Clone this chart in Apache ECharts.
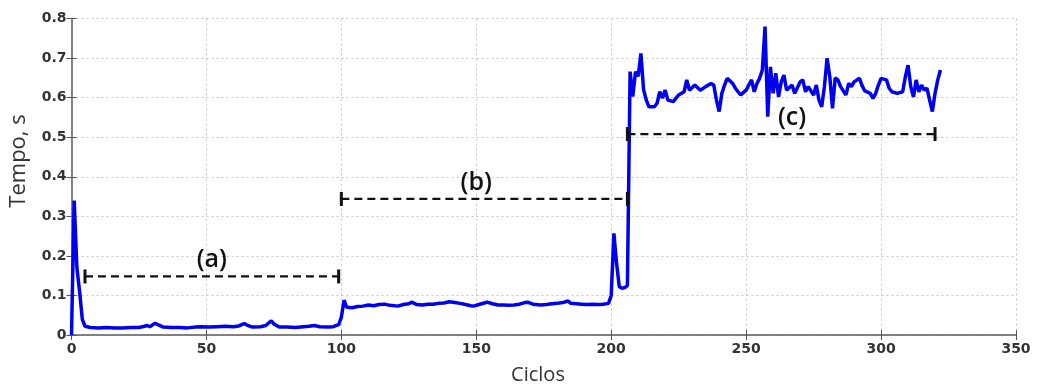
<!DOCTYPE html>
<html>
<head>
<meta charset="utf-8">
<script src="https://cdn.jsdelivr.net/npm/echarts@6/dist/echarts.min.js"></script>
<style>
  html, body { margin: 0; padding: 0; background: #fff; }
  #chart { width: 1038px; height: 385px; }
</style>
</head>
<body>
<div id="chart"></div>
<script>
// Execution time per cycle
const ciclos = [
  0, 1, 2, 3, 4, 5, 7, 10, 13, 16, 19, 22, 25, 27, 28, 29, 31, 32, 34, 37,
  40, 43, 46, 48, 51, 54, 57, 60, 62, 64, 65, 67, 70, 72, 74, 75, 77, 80, 83, 86,
  88, 90, 92, 95, 97, 99, 100, 101, 102, 104, 106, 108, 110, 112, 114, 116, 118, 121, 123, 125,
  126, 128, 130, 132, 134, 136, 138, 140, 142, 144, 146, 148, 149, 151, 153, 154, 156, 158, 160, 162,
  164, 166, 168, 169, 171, 174, 176, 178, 180, 182, 184, 185, 187, 189, 191, 193, 195, 197, 199, 200,
  201, 202, 203, 204, 205, 206, 207, 208, 209, 210, 211, 212, 213, 214, 216, 217, 218, 219, 220, 221,
  223, 225, 227, 228, 229, 231, 233, 235, 237, 238, 239, 240, 241, 242, 243, 245, 246, 247, 248, 250,
  251, 252, 253, 254, 255, 256, 257, 258, 259, 260, 261, 262, 263, 264, 265, 267, 268, 270, 271, 272,
  273, 275, 276, 277, 278, 279, 280, 281, 282, 283, 284, 285, 287, 288, 289, 290, 292, 293, 294, 296,
  297, 298, 299, 300, 302, 303, 304, 306, 308, 309, 310, 311, 312, 313, 314, 315, 316, 317, 318, 319,
  320, 321, 322
];
const tempo = [
  0.000, 0.340, 0.170, 0.110, 0.040, 0.022, 0.019, 0.018, 0.019, 0.018, 0.018, 0.019, 0.019, 0.022, 0.024, 0.021, 0.030, 0.026, 0.020, 0.019,
  0.019, 0.018, 0.020, 0.021, 0.020, 0.021, 0.022, 0.021, 0.023, 0.029, 0.025, 0.020, 0.021, 0.024, 0.036, 0.028, 0.020, 0.020, 0.019, 0.021,
  0.022, 0.024, 0.021, 0.020, 0.021, 0.026, 0.045, 0.088, 0.070, 0.069, 0.072, 0.073, 0.076, 0.074, 0.077, 0.078, 0.075, 0.073, 0.077, 0.079,
  0.083, 0.077, 0.076, 0.078, 0.078, 0.080, 0.081, 0.084, 0.082, 0.080, 0.077, 0.074, 0.073, 0.077, 0.081, 0.083, 0.079, 0.076, 0.076, 0.075,
  0.076, 0.078, 0.082, 0.083, 0.078, 0.076, 0.077, 0.079, 0.080, 0.082, 0.086, 0.080, 0.079, 0.078, 0.077, 0.078, 0.077, 0.078, 0.080, 0.100,
  0.257, 0.180, 0.122, 0.118, 0.120, 0.125, 0.666, 0.603, 0.666, 0.654, 0.712, 0.620, 0.594, 0.577, 0.577, 0.586, 0.615, 0.599, 0.619, 0.594,
  0.590, 0.607, 0.615, 0.645, 0.619, 0.632, 0.619, 0.628, 0.636, 0.632, 0.594, 0.565, 0.611, 0.632, 0.649, 0.636, 0.624, 0.615, 0.607, 0.619,
  0.632, 0.645, 0.615, 0.636, 0.649, 0.670, 0.780, 0.552, 0.678, 0.611, 0.662, 0.602, 0.640, 0.657, 0.619, 0.632, 0.611, 0.640, 0.645, 0.615,
  0.628, 0.607, 0.632, 0.594, 0.577, 0.628, 0.700, 0.653, 0.573, 0.650, 0.645, 0.628, 0.607, 0.636, 0.628, 0.640, 0.649, 0.630, 0.617, 0.611,
  0.598, 0.611, 0.632, 0.649, 0.645, 0.624, 0.615, 0.611, 0.615, 0.653, 0.682, 0.628, 0.602, 0.645, 0.615, 0.632, 0.619, 0.624, 0.594, 0.565,
  0.611, 0.645, 0.670
];

// Phase brackets (a), (b), (c)
const spanNames = ['(a)', '(b)', '(c)'];
const spanStart = [5, 100, 206];
const spanEnd = [99, 206, 320];
const spanLevel = [0.148, 0.344, 0.508];
const spanLabelAt = [52, 150, 267];

// Axis ranges
const xMin = 0, xMax = 350, xStep = 50;
const yMin = 0, yMax = 0.8, yStep = 0.1;

const tickFont = { fontFamily: 'DejaVu Sans', fontWeight: 'bold', fontSize: 14, color: '#333' };
const frame = { show: true, lineStyle: { color: '#7a7a7a', width: 1.5 } };
const innerTick = { show: true, inside: true, length: 5, lineStyle: { color: '#555', width: 1 } };
const dotted = { show: true, lineStyle: { color: '#c4c4c4', width: 1, type: [2, 3] } };

const series = [{
  type: 'line',
  data: ciclos.map((c, i) => [c, tempo[i]]),
  showSymbol: false,
  symbol: 'none',
  lineStyle: { color: '#0000f0', width: 3.5 },
  z: 3
}];

spanNames.forEach((name, i) => {
  series.push({
    type: 'line',
    data: [[spanStart[i], spanLevel[i]], [spanEnd[i], spanLevel[i]]],
    symbol: 'rect',
    symbolSize: [3, 14],
    showSymbol: true,
    itemStyle: { color: '#111' },
    lineStyle: { color: '#111', width: 2.2, type: [8, 5] },
    z: 4
  });
});

series.push({
  type: 'scatter',
  data: spanNames.map((n, i) => [spanLabelAt[i], spanLevel[i], n]),
  symbolSize: 0,
  itemStyle: { opacity: 1 },
  label: {
    show: true,
    position: 'top',
    distance: 4,
    formatter: p => p.data[2],
    fontFamily: 'Open Sans',
    fontWeight: 600,
    fontSize: 25,
    color: '#111'
  },
  z: 5
});

const chart = echarts.init(document.getElementById('chart'), null, { renderer: 'canvas' });
chart.setOption({
  animation: false,
  backgroundColor: '#fff',
  grid: { left: 71.5, right: 22, top: 18.6, bottom: 50 },
  xAxis: [{
    type: 'value', min: xMin, max: xMax, interval: xStep, position: 'bottom',
    axisLine: frame, axisTick: innerTick, splitLine: dotted,
    axisLabel: Object.assign({ margin: 7 }, tickFont)
  }, {
    type: 'value', min: xMin, max: xMax, interval: xStep, position: 'top',
    axisLine: frame, axisTick: innerTick, splitLine: { show: false }, axisLabel: { show: false }
  }],
  yAxis: [{
    type: 'value', min: yMin, max: yMax, interval: yStep, position: 'left',
    axisLine: frame, axisTick: innerTick, splitLine: dotted,
    axisLabel: Object.assign({ margin: 5 }, tickFont)
  }, {
    type: 'value', min: yMin, max: yMax, interval: yStep, position: 'right',
    axisLine: frame, axisTick: innerTick, splitLine: { show: false }, axisLabel: { show: false }
  }],
  graphic: [{
    type: 'text', x: 538, y: 375,
    style: { text: 'Ciclos', fontFamily: 'Open Sans', fontSize: 20, fill: '#333', textAlign: 'center', textVerticalAlign: 'middle' }
  }, {
    type: 'text', x: 19, y: 161, rotation: Math.PI / 2,
    style: { text: 'Tempo, s', fontFamily: 'Open Sans', fontSize: 22, fill: '#333', textAlign: 'center', textVerticalAlign: 'middle' }
  }],
  series: series
});
</script>
</body>
</html>
